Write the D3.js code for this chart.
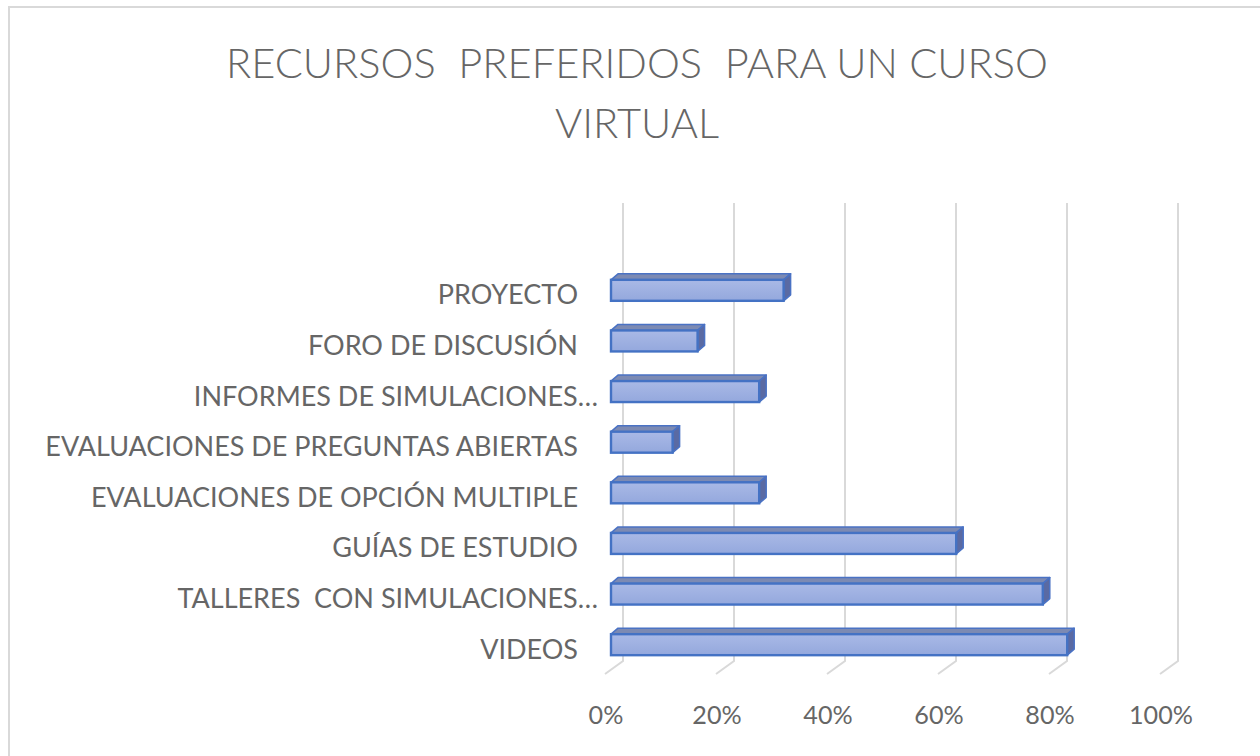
<!DOCTYPE html>
<html><head><meta charset="utf-8">
<script src="https://cdn.jsdelivr.net/npm/d3@7"></script>
<style>body{margin:0;background:#fff}svg{display:block}text{white-space:pre}</style>
</head><body>
<svg id="c" width="1260" height="756"></svg>
<script>
const categories = ["PROYECTO","FORO DE DISCUSIÓN","INFORMES DE SIMULACIONES…","EVALUACIONES DE PREGUNTAS ABIERTAS","EVALUACIONES DE OPCIÓN MULTIPLE","GUÍAS DE ESTUDIO","TALLERES  CON SIMULACIONES…","VIDEOS"];
const values = [0.311, 0.156, 0.267, 0.111, 0.267, 0.622, 0.778, 0.822];
const ticks = [0, 0.2, 0.4, 0.6, 0.8, 1.0];
const titleLines = ["RECURSOS  PREFERIDOS  PARA UN CURSO", "VIRTUAL"];

const svg = d3.select("#c");
const font = "Lato, 'Open Sans', sans-serif";
const grey = "#666666";

svg.append("rect").attr("x",9).attr("y",7).attr("width",1300).attr("height",800)
  .attr("fill","none").attr("stroke","#d9d9d9").attr("stroke-width",2);

const defs = svg.append("defs");
const g1 = defs.append("linearGradient").attr("id","fg").attr("x1",0).attr("y1",0).attr("x2",0).attr("y2",1);
g1.append("stop").attr("offset","0%").attr("stop-color","#a9b9e6");
g1.append("stop").attr("offset","100%").attr("stop-color","#94a8dd");

const xBack = d3.scaleLinear().domain([0,1]).range([623,1178]);
const xBar = d3.scaleLinear().domain([0,1]).range([611,1166]);
const y = d3.scaleBand().domain(categories).range([265,670]);
const wallTop = 203, wallBottom = 661, floorDx = -18, floorDy = 13;
const bh = 21, ddx = 7, ddy = -6;

const grid = svg.append("g");
ticks.forEach(t => {
  const x = xBack(t);
  grid.append("path")
    .attr("d", `M${x},${wallTop}L${x},${wallBottom}L${x+floorDx},${wallBottom+floorDy}`)
    .attr("fill","none").attr("stroke","#d9d9d9").attr("stroke-width",2);
});

const tl = svg.append("g");
const tickNodes = ticks.map(t => tl.append("text").attr("x", xBack(t)+floorDx+1).attr("y", 724)
    .attr("text-anchor","middle").attr("font-family",font).attr("font-size",22)
    .attr("fill",grey).text(d3.format(".0%")(t)));
const w100 = tickNodes[5].node().getComputedTextLength();
tickNodes.forEach(n => n.attr("font-size", 22*64/w100));

const bars = svg.append("g");
categories.forEach((c,i) => {
  const x0 = xBar(0), x1 = xBar(values[i]);
  const yc = y(c) + y.bandwidth()/2;
  const yt = yc - bh/2, yb = yc + bh/2;
  const g = bars.append("g");
  g.append("path").attr("d",`M${x0},${yt}L${x0+ddx},${yt+ddy}L${x1+ddx},${yt+ddy}L${x1},${yt}Z`)
    .attr("fill","#7c8ab3").attr("stroke","#4a72c4").attr("stroke-width",1.5).attr("stroke-linejoin","round");
  g.append("path").attr("d",`M${x1},${yt}L${x1+ddx},${yt+ddy}L${x1+ddx},${yb+ddy}L${x1},${yb}Z`)
    .attr("fill","#5a6aa3").attr("stroke","#4a72c4").attr("stroke-width",1.5).attr("stroke-linejoin","round");
  g.append("rect").attr("x",x0).attr("y",yt).attr("width",x1-x0).attr("height",bh)
    .attr("fill","url(#fg)").attr("stroke","#4472c4").attr("stroke-width",2.4);
});

const cl = svg.append("g");
const labelNodes = categories.map(c => cl.append("text")
  .attr("x", c.endsWith("…") ? 598 : 578).attr("y", y(c)+y.bandwidth()/2+14)
  .attr("text-anchor","end").attr("font-family",font).attr("font-size",22).attr("fill",grey).text(c));
const longest = labelNodes[3].node().getComputedTextLength();
const ls = 22*533/longest;
labelNodes.forEach(n => n.attr("font-size", ls));

const tnodes = titleLines.map((t,i) => svg.append("text").attr("x",637).attr("y", 78 + i*60)
  .attr("text-anchor","middle").attr("font-family",font).attr("font-weight",300).attr("font-size",38).attr("fill",grey).text(t));
const tw = tnodes[0].node().getComputedTextLength();
const ts = 38*822/tw;
tnodes.forEach(n => n.attr("font-size", ts));
</script>
</body></html>
